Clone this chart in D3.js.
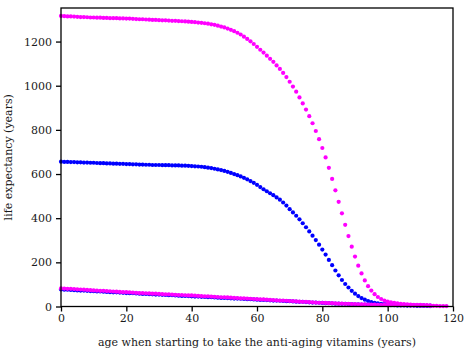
<!DOCTYPE html>
<html>
<head>
<meta charset="utf-8">
<script src="https://cdn.jsdelivr.net/npm/d3@7"></script>
<style>
  body { margin: 0; background: #fff; }
  text { font-family: "DejaVu Serif", serif; fill: #1a1a1a; }
</style>
</head>
<body>
<div id="chart"></div>
<script>
// ages (years) for each curve start at 0, one point per year
const topPink = [1316,1315,1314,1314,1313,1312,1311,1311,1310,1309,1309,1308,1308,1307,1307,1306,1306,1306,1305,1305,
  1304,1304,1303,1302,1301,1301,1300,1299,1298,1298,1297,1296,1296,1295,1294,1294,1293,1292,1291,1290,
  1289,1288,1286,1285,1283,1281,1278,1276,1272,1268,1264,1259,1253,1247,1240,1232,1222,1212,1201,1189,
  1176,1163,1150,1136,1122,1108,1092,1076,1058,1039,1018,996,973,947,920,892,862,830,795,758,
  718,675,628,578,526,474,422,370,319,271,226,185,150,118,92,72,56,43,34,27,
  22,19,16,14,12,11,10,9,8,7,7,6,6,5];

const midBlue = [656,655,655,654,654,653,653,652,652,651,651,650,649,649,648,648,647,647,646,646,
  645,645,644,644,643,643,642,642,641,641,641,640,640,640,639,639,639,638,638,637,
  636,635,634,633,631,629,627,624,621,618,614,610,605,600,595,589,583,576,568,560,
  551,541,531,522,513,504,494,484,471,457,441,426,411,395,377,359,340,321,301,280,
  258,235,211,187,163,141,120,102,86,71,58,47,38,31,25,20,17,14,12,11,
  10,9,8,8,7,7,6,6,6,5,5,5,4,4];

const lowPink = [82,81,80,80,79,78,77,76,75,74,73,72,71,71,70,69,68,67,66,65,
  65,64,63,62,61,61,60,59,58,58,57,56,55,55,54,53,52,52,51,50,
  50,49,48,47,46,46,45,44,43,42,42,41,40,39,38,37,37,36,35,34,
  33,32,32,31,30,29,28,27,27,26,25,24,23,22,21,21,20,19,18,17,
  17,16,15,15,14,13,13,12,12,11,11,10,10,10,9,9,9,8,8,8,
  8,7,7,7,6,6,6,5,5,5,4,4,4,3,3,3,2,2,2];

const lowBlue = [77,76,76,75,74,73,72,72,71,70,69,68,68,67,66,65,64,64,63,62,
  61,60,60,59,58,57,57,56,55,54,54,53,52,51,51,50,49,48,48,47,
  46,45,45,44,43,42,42,41,40,39,39,38,37,36,36,35,34,33,33,32,
  31,30,30,29,28,27,27,26,25,24,24,23,22,21,21,20,19,18,18,17,
  16,15,15,14,13,13,12,12,11,11,10,10,9,9,8,8,8,7,7,7,
  6,6,6,5,5,5,4,4,4,3,3,3,3,2];

const xTicks = [0, 20, 40, 60, 80, 100, 120];
const yTicks = [0, 200, 400, 600, 800, 1000, 1200];

const width = 467, height = 354;
const margin = {top: 8, right: 14, bottom: 47.5, left: 61};

const svg = d3.select("#chart")
    .append("svg")
        .attr("width", width)
        .attr("height", height);

const x = d3.scaleLinear()
    .domain([0, 120])
    .range([margin.left, width - margin.right]);

const y = d3.scaleLinear()
    .domain([0, 1352])
    .range([height - margin.bottom, margin.top]);

// draw series: blue first, pink on top
const series = [
    {values: midBlue, color: "#0000ff"},
    {values: lowBlue, color: "#0000ff"},
    {values: topPink, color: "#ff00ff"},
    {values: lowPink, color: "#ff00ff"}
];

series.forEach(function(s) {
    svg.append("g")
        .selectAll("circle")
        .data(s.values)
        .join("circle")
            .attr("cx", (d, i) => x(i))
            .attr("cy", d => y(d))
            .attr("r", 2.1)
            .style("fill", s.color);
});

// frame
svg.append("rect")
    .attr("x", x(0))
    .attr("y", y(1352))
    .attr("width", x(120) - x(0))
    .attr("height", y(0) - y(1352))
    .attr("fill", "none")
    .attr("stroke", "#000")
    .attr("stroke-width", 1.3);

const xAxis = svg.append("g")
    .attr("transform", `translate(0,${y(0)})`)
    .call(d3.axisBottom(x).tickValues(xTicks).tickSize(5).tickPadding(3));

const yAxis = svg.append("g")
    .attr("transform", `translate(${x(0)},0)`)
    .call(d3.axisLeft(y).tickValues(yTicks).tickFormat(d3.format("d")).tickSize(5).tickPadding(4));

[xAxis, yAxis].forEach(function(a) {
    a.select(".domain").remove();
    a.selectAll("line").attr("stroke", "#000").attr("stroke-width", 1.3);
    a.selectAll("text")
        .style("font-family", '"DejaVu Serif", serif')
        .style("font-size", "11px")
        .attr("fill", "#1a1a1a");
});

svg.append("text")
    .attr("x", (x(0) + x(120)) / 2)
    .attr("y", 346)
    .attr("text-anchor", "middle")
    .style("font-size", "11px")
    .text("age when starting to take the anti-aging vitamins (years)");

svg.append("text")
    .attr("transform", `translate(12,${(y(0) + y(1352)) / 2}) rotate(-90)`)
    .attr("text-anchor", "middle")
    .style("font-size", "11px")
    .text("life expectancy (years)");
</script>
</body>
</html>
